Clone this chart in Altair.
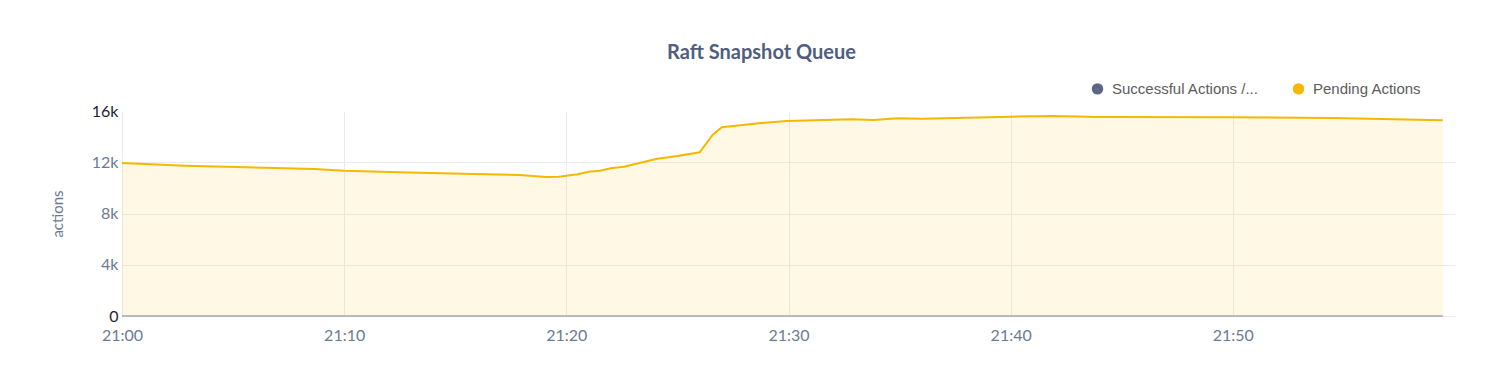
import altair as alt
import pandas as pd

# ---- data ----
times = ["21:00:00", "21:02:50", "21:08:40", "21:10:00", "21:12:30", "21:15:50",
         "21:17:55", "21:19:05", "21:19:40", "21:20:30", "21:21:00", "21:21:30",
         "21:22:00", "21:22:35", "21:23:20", "21:24:05", "21:25:00", "21:26:00",
         "21:26:35", "21:27:00", "21:28:40", "21:29:55", "21:32:50", "21:33:50",
         "21:34:55", "21:36:00", "21:40:00", "21:41:50", "21:44:00", "21:50:00",
         "21:54:30", "21:59:27"]
pending = [11950, 11730, 11470, 11340, 11220, 11080,
           11000, 10850, 10870, 11060, 11260, 11340,
           11530, 11650, 11960, 12280, 12490, 12780,
           14130, 14730, 15040, 15220, 15350, 15300,
           15430, 15400, 15560, 15610, 15530, 15510,
           15450, 15280]
series_names = ["Successful Actions /...", "Pending Actions"]
series_colors = ["#5b6785", "#f5b800"]
x_tick_hm = [(21, 0), (21, 10), (21, 20), (21, 30), (21, 40), (21, 50)]
y_ticks = [0, 4000, 8000, 12000, 16000]

DAY = "2024-01-15T"
df = pd.DataFrame({
    "time": [DAY + t for t in times],
    "actions": pending,
    "series": ["Pending Actions"] * len(times),
})

def dt(h, m):
    return alt.DateTime(year=2024, month=1, date=15, hours=h, minutes=m)

label_col = "#6c7a93"

x_axis = alt.Axis(values=[dt(h, m) for h, m in x_tick_hm], format="%H:%M", title=None,
                  labelFont="Lato", labelFontSize=16, labelColor=label_col,
                  labelPadding=11, ticks=False, domain=False, grid=True,
                  gridColor="#ebebeb", labelFlush=False)
y_axis = alt.Axis(values=y_ticks,
                  labelExpr="datum.value == 0 ? '0' : format(datum.value / 1000, 'd') + 'k'",
                  title="actions",
                  titleFont="Lato", titleFontSize=15, titleFontWeight="normal",
                  titleColor=label_col, titlePadding=26,
                  labelFont="Lato", labelFontSize=16,
                  labelColor={"condition": {"test": "datum.value == 0 || datum.value == 16000",
                                            "value": "#1f2433"}, "value": label_col},
                  labelPadding=4, ticks=False, domain=False, grid=True,
                  gridColor="#ebebeb",
                  gridOpacity={"condition": {"test": "datum.value == 16000", "value": 0},
                               "value": 1})

x_scale = alt.Scale(domain=[dt(21, 0), dt(22, 0)])
y_scale = alt.Scale(domain=[0, 16000], nice=False)

X = alt.X("time:T", scale=x_scale, axis=x_axis)
Y = alt.Y("actions:Q", scale=y_scale, axis=y_axis)

base = alt.Chart(df)

area = base.mark_area(color="#f5b800", opacity=0.1).encode(x=X, y=Y)

line = base.mark_line(strokeWidth=2).encode(
    x=X, y=Y,
    color=alt.Color("series:N",
                    scale=alt.Scale(domain=series_names, range=series_colors),
                    legend=alt.Legend(title=None, orient="none", legendX=968, legendY=-30,
                                      direction="horizontal", symbolType="circle",
                                      symbolSize=30, symbolStrokeWidth=6,
                                      labelFont="Liberation Sans", labelFontSize=15,
                                      labelColor="#5c5c5c", columnPadding=24,
                                      labelOffset=7, labelLimit=400)),
)

baseline = base.mark_rule(color="#a3a7b3", strokeWidth=1.5).encode(
    x=alt.X("min(time):T", scale=x_scale, axis=x_axis),
    x2="max(time):T",
    y=alt.Y(datum=0, scale=y_scale, axis=y_axis),
)

chart = alt.layer(area, line, baseline).properties(
    width=1333,
    height=205,
    autosize=alt.AutoSizeParams(type="none"),
    padding={"left": 114, "top": 103, "right": 47, "bottom": 51},
    background="white",
    title=alt.Title("Raft Snapshot Queue", font="Lato", fontSize=20, fontWeight="bold",
                    color="#4f5e7e", anchor="middle", frame="group", dx=-27, offset=18),
).configure_view(stroke=None)

chart.save("out.html", embed_options={"renderer": "svg", "actions": False})
